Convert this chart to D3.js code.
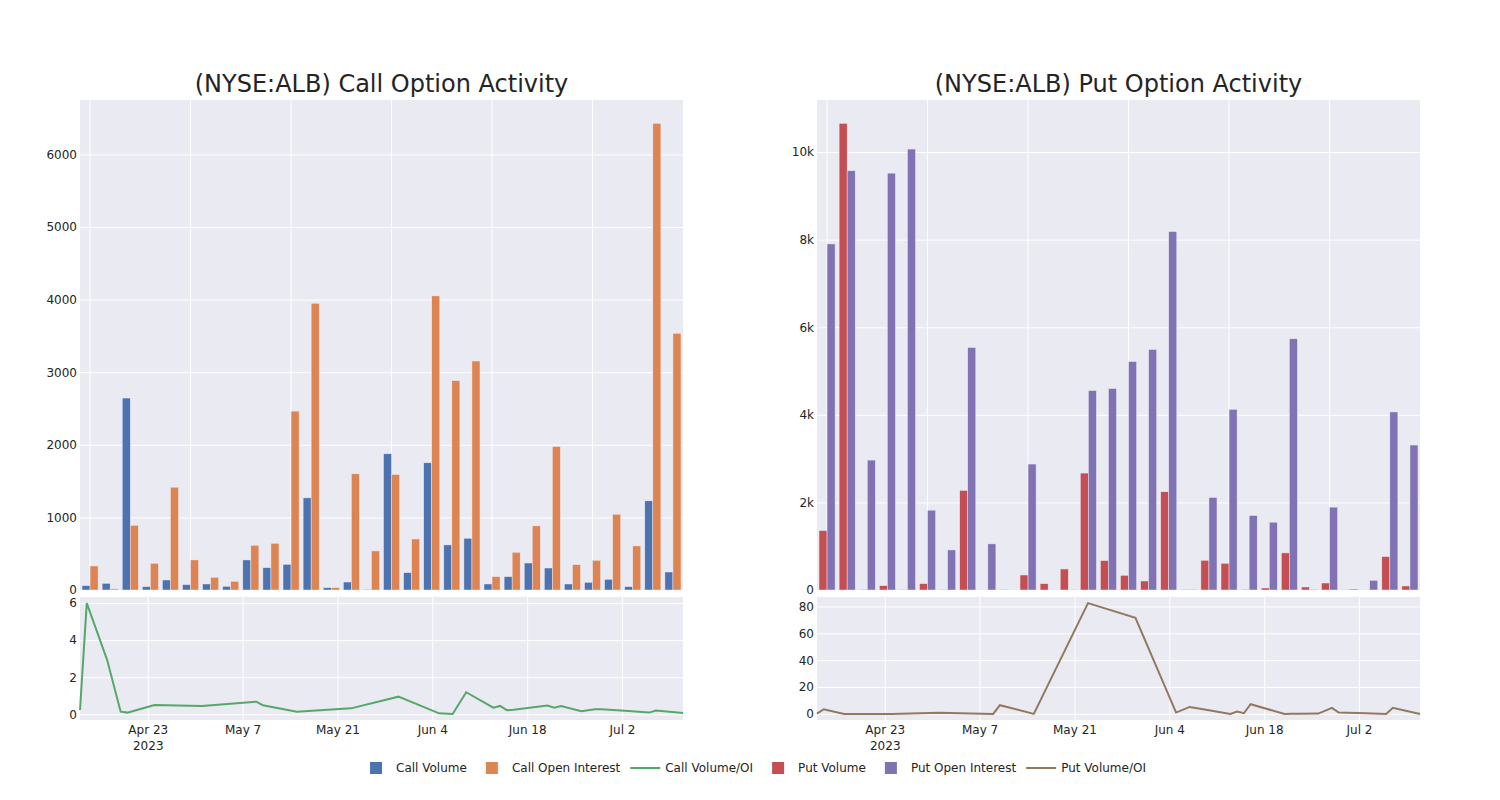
<!DOCTYPE html>
<html lang="en">
	<head>
		<meta charset="utf-8" />
		<title>ALB option activity</title>
		<style>
			body { margin:0; background:#fff; }
			text { font-family:"DejaVu Sans", sans-serif; fill:rgb(36,36,36); }
		</style>
	</head>
	<body>
		<script type="text/javascript" charset="utf-8" src="https://cdn.jsdelivr.net/npm/d3@7/dist/d3.min.js"></script>
		<script>
			// data
			var dates = ["2023-04-13","2023-04-14","2023-04-17","2023-04-19","2023-04-20","2023-04-21","2023-04-24","2023-05-01","2023-05-09","2023-05-10",
				"2023-05-15","2023-05-23","2023-05-30","2023-06-05","2023-06-07","2023-06-09","2023-06-13","2023-06-14","2023-06-15","2023-06-16",
				"2023-06-21","2023-06-22","2023-06-23","2023-06-26","2023-06-28","2023-06-29","2023-07-03","2023-07-06","2023-07-07","2023-07-11"];
			var callVolume = [60,92,2644,46,138,74,83,51,414,308,354,1269,32,110,9,1876,239,1752,621,713,83,184,372,303,83,106,147,46,1228,248];
			var callOI = [331,15,892,368,1416,414,175,120,616,644,2464,3949,32,1600,538,1591,703,4051,2883,3154,184,520,883,1977,349,409,1044,607,6428,3536];
			var callRatio = [0.23,6.0,2.94,0.14,0.09,0.19,0.50,0.45,0.68,0.49,0.14,0.32,0.95,0.05,0.02,1.19,0.36,0.45,0.22,0.24,0.47,0.36,0.45,0.16,0.27,0.27,0.18,0.09,0.20,0.07];
			var putVolume = [1358,10656,10,99,8,145,3,2273,0,5,343,145,480,2670,671,336,206,2243,10,679,610,15,46,847,69,160,8,0,763,92];
			var putOI = [7902,9573,2967,9519,10069,1823,915,5538,1053,0,2876,0,6,4554,4600,5217,5492,8185,15,2113,4127,1701,1548,5736,15,1892,23,221,4066,3310];
			var putRatio = [0.25,3.5,0,0,0,0,0,0.8,0,6.5,0,82.5,71.5,1,5.2,3.5,0,1.7,0.5,7.2,0,0.05,0.1,0.25,4.5,1,0.45,0,4.5,0];
			var dateTicks = ["2023-04-23","2023-05-07","2023-05-21","2023-06-04","2023-06-18","2023-07-02"];

			var bg = '#EAEAF2';
			var parse = d3.utcParse('%Y-%m-%d');
			var fmt = d3.utcFormat('%b %-d');

			var svg = d3.select('body').append('svg')
				.attr('width',1500)
				.attr('height',800);

			function panel(x0, x1, title, vol, oi, ratio, cVol, cOI, cRatio, yFmt) {
				var g = svg.append('g');
				var barTop = 100, barZero = 590, lineTop = 597, lineBot = 720;

				// bar subplot
				g.append('rect').attr('x',x0).attr('y',barTop).attr('width',x1-x0).attr('height',barZero+1-barTop).attr('fill',bg);
				var xb = d3.scaleBand().domain(d3.range(dates.length)).range([x0,x1]);
				var xs = d3.scaleBand().domain([0,1]).range([0,xb.bandwidth()]).paddingOuter(0.25);
				var yMax = d3.max(vol.concat(oi))*1.05;
				var yb = d3.scaleLinear().domain([0,yMax]).range([barZero,barTop]);

				g.append('g').attr('transform','translate(0,'+barTop+')')
					.call(d3.axisBottom(xb).tickValues(d3.range(0,dates.length,5)).tickSize(barZero-barTop).tickFormat(''))
					.call(function(a){ a.select('.domain').remove(); a.selectAll('line').attr('stroke','#fff'); });
				g.append('g').attr('transform','translate('+x0+',0)')
					.call(d3.axisLeft(yb).ticks(6).tickSize(-(x1-x0)).tickPadding(3).tickFormat(yFmt))
					.call(function(a){
						a.select('.domain').remove();
						a.selectAll('line').attr('stroke','#fff');
						a.selectAll('text').style('font-size','12px').attr('fill','rgb(36,36,36)');
					});

				[[vol,cVol],[oi,cOI]].forEach(function(s, k) {
					g.append('g').selectAll('rect').data(s[0]).enter().append('rect')
						.attr('x',function(d,i){ return xb(i)+xs(k); })
						.attr('width',xs.bandwidth())
						.attr('y',function(d){ return yb(d); })
						.attr('height',function(d){ return barZero-yb(d); })
						.attr('fill',s[1])
						.attr('stroke',bg)
						.attr('stroke-width',0.5);
				});

				// line subplot
				g.append('rect').attr('x',x0).attr('y',lineTop).attr('width',x1-x0).attr('height',lineBot-lineTop).attr('fill',bg);
				var xt = d3.scaleUtc().domain(d3.extent(dates,parse)).range([x0,x1]);
				var ext = d3.extent(ratio), pad = (ext[1]-ext[0])*0.055;
				var yl = d3.scaleLinear().domain([ext[0]-pad,ext[1]+pad]).range([lineBot,lineTop]);

				var xa = g.append('g').attr('transform','translate(0,'+lineTop+')')
					.call(d3.axisBottom(xt).tickValues(dateTicks.map(parse)).tickSize(lineBot-lineTop).tickPadding(5).tickFormat(fmt))
					.call(function(a){
						a.select('.domain').remove();
						a.selectAll('line').attr('stroke','#fff');
						a.selectAll('text').style('font-size','12px').attr('fill','rgb(36,36,36)');
					});
				xa.select('.tick text').append('tspan').attr('x',0).attr('dy','1.35em').text('2023');

				g.append('g').attr('transform','translate('+x0+',0)')
					.call(d3.axisLeft(yl).ticks(4).tickSize(-(x1-x0)).tickPadding(3))
					.call(function(a){
						a.select('.domain').remove();
						a.selectAll('line').attr('stroke','#fff');
						a.selectAll('text').style('font-size','12px').attr('fill','rgb(36,36,36)');
					});

				g.append('path')
					.datum(ratio)
					.attr('fill','none')
					.attr('stroke',cRatio)
					.attr('stroke-width',2)
					.attr('d',d3.line().x(function(d,i){ return xt(parse(dates[i])); }).y(function(d){ return yl(d); }));

				g.append('text')
					.attr('x',(x0+x1)/2)
					.attr('y',92)
					.attr('text-anchor','middle')
					.style('font-size','24px')
					.text(title);
			}

			panel(80,683,'(NYSE:ALB) Call Option Activity',callVolume,callOI,callRatio,'#4C72B0','#DD8452','#55A868',d3.format('d'));
			panel(817,1420,'(NYSE:ALB) Put Option Activity',putVolume,putOI,putRatio,'#C44E52','#8172B3','#937860',function(d){ return d===0 ? '0' : d/1000+'k'; });

			// legend
			var items = [
				{name:'Call Volume',color:'#4C72B0',type:'bar'},
				{name:'Call Open Interest',color:'#DD8452',type:'bar'},
				{name:'Call Volume/OI',color:'#55A868',type:'line'},
				{name:'Put Volume',color:'#C44E52',type:'bar'},
				{name:'Put Open Interest',color:'#8172B3',type:'bar'},
				{name:'Put Volume/OI',color:'#937860',type:'line'}
			];
			var leg = svg.append('g');
			var lx = 0, ly = 768, gap = 5;
			items.forEach(function(it) {
				var ig = leg.append('g').attr('transform','translate('+lx+','+ly+')');
				if(it.type==='bar') {
					ig.append('rect').attr('x',14).attr('y',-6).attr('width',12).attr('height',12).attr('fill',it.color);
				} else {
					ig.append('line').attr('x1',5).attr('x2',35).attr('y1',0).attr('y2',0).attr('stroke',it.color).attr('stroke-width',2);
				}
				var t = ig.append('text').attr('x',40).attr('y',4).style('font-size','12px').text(it.name);
				lx += 40 + t.node().getComputedTextLength() + gap;
			});
			var lw = lx - gap;
			leg.attr('transform','translate('+(751-lw/2)+',0)');
		</script>
	</body>
</html>
